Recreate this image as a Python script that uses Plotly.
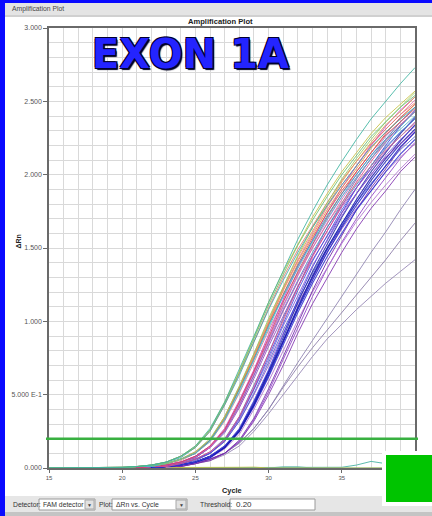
import plotly.graph_objects as go

# ---- data: delta Rn per cycle for each well (FAM detector) ----
cycles = list(range(15, 41))
threshold = 0.20
y_tickvals = [0.0, 0.5, 1.0, 1.5, 2.0, 2.5, 3.0]
y_ticktext = ["0.000", "5.000 E-1", "1.000", "1.500", "2.000", "2.500", "3.000"]
x_tickvals = [15, 20, 25, 30, 35, 40]

well_A1 = [0, 0, 0, 0, 0, 0.005, 0.01, 0.02, 0.04, 0.08, 0.15, 0.27, 0.45, 0.67, 0.90, 1.13, 1.35, 1.56, 1.75, 1.93, 2.09, 2.24, 2.38, 2.50, 2.62, 2.73]
well_A2 = [0, 0, 0, 0, 0, 0.005, 0.01, 0.02, 0.04, 0.08, 0.14, 0.26, 0.44, 0.65, 0.88, 1.11, 1.32, 1.52, 1.69, 1.85, 2.00, 2.13, 2.26, 2.36, 2.46, 2.54]
well_A3 = [0, 0, 0, 0, 0, 0.005, 0.01, 0.02, 0.04, 0.07, 0.14, 0.25, 0.43, 0.63, 0.86, 1.08, 1.28, 1.47, 1.64, 1.79, 1.93, 2.06, 2.19, 2.29, 2.38, 2.46]
well_A4 = [0, 0, 0, 0, 0, 0, 0.01, 0.02, 0.03, 0.06, 0.11, 0.20, 0.35, 0.56, 0.78, 1.02, 1.24, 1.45, 1.64, 1.81, 1.97, 2.11, 2.24, 2.36, 2.46, 2.56]
well_A5 = [0, 0, 0, 0, 0, 0, 0.01, 0.01, 0.03, 0.06, 0.10, 0.18, 0.33, 0.52, 0.74, 0.96, 1.17, 1.36, 1.54, 1.70, 1.85, 1.98, 2.11, 2.22, 2.31, 2.40]
well_A6 = [0, 0, 0, 0, 0, 0.005, 0.01, 0.02, 0.04, 0.08, 0.15, 0.26, 0.45, 0.66, 0.89, 1.13, 1.34, 1.53, 1.71, 1.87, 2.02, 2.15, 2.28, 2.39, 2.48, 2.57]
well_B1 = [0, 0, 0, 0, 0, 0, 0.01, 0.01, 0.03, 0.06, 0.10, 0.19, 0.34, 0.54, 0.76, 0.99, 1.21, 1.41, 1.59, 1.76, 1.91, 2.04, 2.18, 2.29, 2.38, 2.48]
well_B2 = [0, 0, 0, 0, 0, 0, 0.01, 0.01, 0.03, 0.06, 0.11, 0.19, 0.35, 0.55, 0.78, 1.01, 1.23, 1.44, 1.62, 1.79, 1.95, 2.09, 2.22, 2.34, 2.43, 2.53]
well_B3 = [0, 0, 0, 0, 0, 0, 0.01, 0.01, 0.03, 0.06, 0.10, 0.19, 0.34, 0.54, 0.75, 0.98, 1.19, 1.39, 1.57, 1.74, 1.89, 2.02, 2.15, 2.27, 2.36, 2.45]
well_B4 = [0, 0, 0, 0, 0, 0, 0, 0.01, 0.02, 0.04, 0.08, 0.15, 0.26, 0.45, 0.66, 0.89, 1.13, 1.34, 1.53, 1.71, 1.87, 2.02, 2.15, 2.28, 2.39, 2.48]
well_B5 = [0, 0, 0, 0, 0, 0.005, 0.01, 0.02, 0.04, 0.08, 0.14, 0.25, 0.43, 0.64, 0.86, 1.09, 1.30, 1.49, 1.65, 1.81, 1.96, 2.09, 2.21, 2.31, 2.41, 2.49]
well_B6 = [0, 0, 0, 0, 0, 0, 0.01, 0.01, 0.03, 0.06, 0.11, 0.19, 0.35, 0.55, 0.77, 1.00, 1.22, 1.42, 1.60, 1.78, 1.93, 2.06, 2.20, 2.31, 2.41, 2.51]
well_C1 = [0, 0, 0, 0, 0, 0, 0, 0.01, 0.02, 0.04, 0.08, 0.14, 0.26, 0.44, 0.65, 0.87, 1.10, 1.31, 1.50, 1.67, 1.83, 1.98, 2.11, 2.23, 2.34, 2.43]
well_C2 = [0, 0, 0, 0, 0, 0, 0, 0.01, 0.02, 0.04, 0.08, 0.15, 0.27, 0.46, 0.67, 0.91, 1.15, 1.37, 1.56, 1.74, 1.91, 2.06, 2.20, 2.33, 2.44, 2.53]
well_C3 = [0, 0, 0, 0, 0, 0, 0, 0.01, 0.02, 0.04, 0.07, 0.14, 0.25, 0.42, 0.63, 0.85, 1.07, 1.27, 1.45, 1.62, 1.78, 1.91, 2.04, 2.16, 2.26, 2.36]
well_C4 = [0, 0, 0, 0, 0, 0, 0.01, 0.01, 0.03, 0.05, 0.10, 0.18, 0.32, 0.51, 0.72, 0.94, 1.14, 1.33, 1.50, 1.67, 1.81, 1.94, 2.06, 2.17, 2.26, 2.35]
well_C5 = [0, 0, 0, 0, 0, 0, 0, 0.01, 0.01, 0.03, 0.06, 0.11, 0.19, 0.35, 0.55, 0.78, 1.01, 1.23, 1.44, 1.62, 1.79, 1.95, 2.09, 2.22, 2.34, 2.43]
well_C6 = [0, 0, 0, 0, 0, 0, 0, 0.01, 0.02, 0.04, 0.07, 0.14, 0.24, 0.41, 0.61, 0.83, 1.04, 1.24, 1.42, 1.58, 1.74, 1.87, 2.00, 2.12, 2.21, 2.30]
well_D1 = [0, 0, 0, 0, 0, 0, 0, 0.01, 0.01, 0.03, 0.06, 0.10, 0.19, 0.33, 0.53, 0.74, 0.97, 1.18, 1.38, 1.55, 1.72, 1.87, 2.00, 2.13, 2.24, 2.33]
well_D2 = [0, 0, 0, 0, 0, 0, 0, 0.01, 0.01, 0.03, 0.05, 0.10, 0.18, 0.32, 0.50, 0.70, 0.92, 1.12, 1.30, 1.47, 1.63, 1.77, 1.89, 2.02, 2.12, 2.21]
well_D3 = [0, 0, 0, 0, 0, 0, 0, 0.01, 0.02, 0.04, 0.08, 0.14, 0.26, 0.44, 0.65, 0.88, 1.11, 1.32, 1.52, 1.69, 1.85, 2.00, 2.13, 2.26, 2.36, 2.46]
well_D4 = [0, 0, 0, 0, 0, 0, 0, 0.01, 0.02, 0.04, 0.07, 0.14, 0.25, 0.43, 0.63, 0.86, 1.08, 1.28, 1.47, 1.64, 1.79, 1.93, 2.06, 2.19, 2.29, 2.38]
well_D5 = [0, 0, 0, 0, 0, 0, 0, 0.01, 0.01, 0.03, 0.06, 0.10, 0.19, 0.34, 0.54, 0.76, 0.99, 1.21, 1.41, 1.59, 1.76, 1.91, 2.04, 2.18, 2.29, 2.38]
well_D6 = [0, 0, 0, 0, 0, 0, 0, 0.01, 0.01, 0.03, 0.05, 0.10, 0.18, 0.32, 0.51, 0.72, 0.94, 1.14, 1.33, 1.50, 1.67, 1.81, 1.94, 2.06, 2.17, 2.26]
well_E1 = [0, 0, 0, 0, 0, 0, 0, 0, 0.01, 0.02, 0.04, 0.07, 0.14, 0.25, 0.43, 0.63, 0.86, 1.08, 1.28, 1.47, 1.64, 1.79, 1.93, 2.06, 2.19, 2.29]
well_E2 = [0, 0, 0, 0, 0, 0, 0, 0, 0.01, 0.02, 0.04, 0.08, 0.14, 0.26, 0.44, 0.65, 0.87, 1.10, 1.31, 1.50, 1.67, 1.83, 1.98, 2.11, 2.23, 2.34]
well_E3 = [0, 0, 0, 0, 0, 0, 0, 0, 0.01, 0.02, 0.04, 0.07, 0.14, 0.25, 0.42, 0.62, 0.84, 1.06, 1.26, 1.44, 1.60, 1.76, 1.89, 2.02, 2.14, 2.24]
well_E4 = [0, 0, 0, 0, 0, 0, 0, 0, 0.01, 0.02, 0.04, 0.08, 0.15, 0.26, 0.45, 0.66, 0.89, 1.13, 1.34, 1.53, 1.71, 1.87, 2.02, 2.15, 2.28, 2.39]
well_E5 = [0, 0, 0, 0, 0, 0, 0, 0.01, 0.01, 0.03, 0.06, 0.11, 0.20, 0.35, 0.56, 0.78, 1.02, 1.24, 1.45, 1.64, 1.81, 1.97, 2.11, 2.24, 2.36, 2.46]
well_E6 = [0, 0, 0, 0, 0, 0, 0, 0, 0.01, 0.01, 0.03, 0.05, 0.10, 0.18, 0.32, 0.50, 0.70, 0.92, 1.12, 1.30, 1.47, 1.63, 1.77, 1.89, 2.02, 2.12]
well_F1 = [0, 0, 0, 0, 0, 0, 0, 0, 0.01, 0.01, 0.03, 0.06, 0.10, 0.18, 0.33, 0.52, 0.74, 0.96, 1.17, 1.36, 1.54, 1.70, 1.85, 1.98, 2.11, 2.22]
well_F2 = [0, 0, 0, 0, 0, 0, 0, 0, 0.00, 0.02, 0.03, 0.07, 0.13, 0.23, 0.40, 0.59, 0.80, 1.01, 1.20, 1.37, 1.53, 1.68, 1.81, 1.93, 2.04, 2.14]
well_F3 = [0, 0, 0, 0, 0, 0, 0, 0, 0.01, 0.01, 0.03, 0.06, 0.10, 0.19, 0.34, 0.54, 0.76, 0.99, 1.21, 1.41, 1.59, 1.76, 1.91, 2.04, 2.18, 2.29]
well_F4 = [0, 0, 0, 0, 0, 0, 0.01, 0.01, 0.03, 0.06, 0.10, 0.19, 0.33, 0.53, 0.74, 0.97, 1.18, 1.38, 1.55, 1.72, 1.87, 2.00, 2.13, 2.24, 2.33, 2.43]
well_F5 = [0, 0, 0, 0, 0, 0, 0, 0, 0.01, 0.02, 0.04, 0.08, 0.14, 0.25, 0.43, 0.64, 0.86, 1.09, 1.30, 1.49, 1.65, 1.81, 1.96, 2.09, 2.21, 2.31]
well_F6 = [0, 0, 0, 0, 0, 0, 0, 0, 0.01, 0.02, 0.04, 0.08, 0.15, 0.27, 0.46, 0.67, 0.91, 1.15, 1.37, 1.56, 1.74, 1.91, 2.06, 2.20, 2.33, 2.44]
# slower wells
well_G1 = [0, 0, 0, 0, 0, 0, 0, 0.01, 0.01, 0.02, 0.03, 0.06, 0.10, 0.17, 0.27, 0.40, 0.56, 0.72, 0.87, 1.02, 1.17, 1.32, 1.47, 1.61, 1.76, 1.90]
well_G2 = [0, 0, 0, 0, 0, 0, 0, 0.01, 0.01, 0.02, 0.03, 0.06, 0.10, 0.17, 0.27, 0.40, 0.55, 0.69, 0.82, 0.94, 1.06, 1.18, 1.30, 1.42, 1.55, 1.67]
well_G3 = [0, 0, 0, 0, 0, 0, 0, 0, 0.01, 0.02, 0.03, 0.05, 0.09, 0.15, 0.25, 0.37, 0.50, 0.63, 0.76, 0.88, 0.98, 1.08, 1.17, 1.26, 1.34, 1.42]
# no-amplification wells
well_H1 = [0, 0, 0, 0, 0, 0, 0, 0, 0, 0, 0, 0, 0, 0, 0, 0, 0, 0, 0, 0, 0.005, 0.02, 0.045, 0.03, 0.02, 0.01]
well_H2 = [0, 0, 0, 0, 0, 0, 0, 0, 0, 0, 0, 0, 0, 0, 0, 0, 0.008, 0.008, 0.0, 0, 0, 0, 0, 0, 0, 0]
well_H3 = [0, 0, 0, 0, 0, 0, 0, 0, 0, 0, 0, 0, 0, 0.005, 0.006, 0, 0, 0, 0, 0, 0, 0, 0, 0, 0, 0]

wells = [
    (well_G3, "#9484b4", 1.0), (well_G2, "#8a7aa8", 1.0), (well_G1, "#8c80b0", 1.0),
    (well_H1, "#40b0a0", 1.0), (well_H2, "#50b0a0", 1.0), (well_H3, "#c8c040", 1.0),
    (well_E6, "#8030b0", 1.0), (well_F1, "#9040c8", 1.0), (well_F2, "#b070d0", 1.0),
    (well_F3, "#7028a8", 1.0), (well_D2, "#a060c8", 1.0), (well_D6, "#5060d0", 1.0),
    (well_E3, "#3030d0", 1.1), (well_E1, "#2020c8", 1.1), (well_F5, "#1c1cb8", 1.1),
    (well_E2, "#1818b0", 1.1), (well_E4, "#2828a8", 1.1), (well_F6, "#3a3ae0", 1.0),
    (well_C6, "#9048c0", 1.0), (well_D1, "#8058d8", 1.0), (well_D5, "#4050e0", 1.0),
    (well_D4, "#4888c8", 1.0), (well_E5, "#6070b0", 1.0), (well_D3, "#a080d8", 1.0),
    (well_C3, "#b050b8", 1.0), (well_C5, "#e04890", 1.0), (well_C4, "#d08090", 1.0),
    (well_C1, "#d860b0", 1.0), (well_C2, "#c840c0", 1.0), (well_B6, "#e870a8", 1.0),
    (well_B4, "#d84060", 1.0), (well_B3, "#e05048", 1.0), (well_B5, "#e87868", 1.0),
    (well_B1, "#e89040", 1.0), (well_B2, "#e0a050", 1.0), (well_F4, "#30a0b8", 1.0),
    (well_A6, "#c8c040", 1.0), (well_A5, "#50b8d0", 1.0), (well_A4, "#98cc60", 1.0),
    (well_A3, "#40a8b0", 1.0), (well_A2, "#6cc070", 1.0), (well_A1, "#3cb4a0", 1.0),
]

# ---- page geometry (pixels) ----
W, H = 432, 516
PL, PR, PT, PB = 49, 415, 28, 468


def fx(px):
    return (px - PL) / (PR - PL)


def fy(py):
    return (PB - py) / (PB - PT)


UI = "Liberation Sans, Arial, sans-serif"

fig = go.Figure()
for vals, color, width in wells:
    fig.add_trace(go.Scatter(
        x=cycles, y=vals, mode="lines",
        line=dict(color=color, width=width),
        opacity=0.85, hoverinfo="skip", showlegend=False,
    ))

shapes = []


def rect(x0, y0, x1, y1, fill, line=None, layer="below", lw=1):
    shapes.append(dict(
        type="rect", xref="paper", yref="paper",
        x0=fx(x0), x1=fx(x1), y0=fy(y1), y1=fy(y0),
        fillcolor=fill, layer=layer,
        line=dict(color=line or fill, width=lw if line else 0),
    ))


# window chrome
rect(0, 0, W, 3, "#0a0aff")
rect(0, 0, 5, H, "#0a0aff")
rect(5, 3, W, 15, "#e4e4e4")
rect(5, 15, W, 17, "#d0d0d0")
rect(5, 496, W, 512, "#e6e6e6")
rect(5, 512, W, H, "#c4c4c4")
# control boxes
rect(39, 499, 95, 510, "#ffffff", "#9a9a9a", "above")
rect(85, 500, 94, 509, "#e2e2e2", "#a8a8a8", "above")
rect(112, 499, 187, 510, "#ffffff", "#9a9a9a", "above")
rect(176, 500, 186, 509, "#e2e2e2", "#a8a8a8", "above")
rect(230, 499, 315, 510, "#ffffff", "#9a9a9a", "above")
# status square
rect(382, 451, W, 506, "#ffffff", None, "above")
rect(386, 455, W, 502, "#00c400", None, "above")

# threshold line
shapes.append(dict(
    type="line", xref="paper", yref="y",
    x0=fx(PL - 3), x1=fx(PR + 3), y0=threshold, y1=threshold,
    line=dict(color="#38b040", width=2.5), layer="above",
))

annotations = []


def label(text, px, py, size, color="#333333", xanchor="center", bold=False,
          family=UI, angle=0, **kw):
    annotations.append(dict(
        text=f"<b>{text}</b>" if bold else text,
        xref="paper", yref="paper", x=fx(px), y=fy(py),
        xanchor=xanchor, yanchor="middle", showarrow=False, textangle=angle,
        font=dict(family=family, size=size, color=color, **kw),
    ))


label("Amplification Plot", 10, 9, 6.8, "#444444", xanchor="left")
label("Amplification Plot", 220, 21.5, 7.6, "#222222", bold=True)
label("ΔRn", 17.5, 242, 7, "#222222", bold=True, angle=-90)
label("Cycle", 232, 490, 7.4, "#222222", bold=True)
label("Detector:", 11, 504.5, 6.8, "#333333", xanchor="left")
label("FAM detector", 41, 504.5, 6.8, "#333333", xanchor="left")
label("▼", 89.5, 504.5, 5, "#444444")
label("Plot:", 97, 504.5, 6.8, "#333333", xanchor="left")
label("ΔRn vs. Cycle", 114, 504.5, 6.8, "#333333", xanchor="left")
label("▼", 181, 504.5, 5, "#444444")
label("Threshold:", 198, 504.5, 6.8, "#333333", xanchor="left")
label(f"{threshold:.2f}", 234, 504.5, 8, "#333333", xanchor="left")
label("EXON 1A", 190, 54, 40, "#2424ff", bold=True, family="DejaVu Sans, Noto Sans, sans-serif",
      shadow="1px 1px 0 #000030, -1px -1px 0 #000030, 1px -1px 0 #000030, -1px 1px 0 #000030, 1.5px 1.5px 1px #000020")

grid = "#d9d9d9"
fig.update_layout(
    width=W, height=H,
    margin=dict(l=PL, r=W - PR, t=PT, b=H - PB, pad=0),
    paper_bgcolor="#ffffff", plot_bgcolor="#ffffff",
    shapes=shapes, annotations=annotations,
    xaxis=dict(
        range=[15, 40], tickvals=x_tickvals, ticktext=[str(v) for v in x_tickvals],
        showgrid=True, gridcolor=grid, gridwidth=1,
        minor=dict(dtick=1, showgrid=True, gridcolor=grid, gridwidth=1),
        showline=True, linecolor="#6a6a6a", linewidth=1.5, mirror=True,
        ticks="outside", ticklen=3, tickcolor="#6a6a6a",
        tickfont=dict(family=UI, size=6, color="#555555"), zeroline=False,
    ),
    yaxis=dict(
        range=[0, 3], tickvals=y_tickvals, ticktext=y_ticktext,
        showgrid=True, gridcolor=grid, gridwidth=1,
        minor=dict(dtick=0.1, showgrid=True, gridcolor=grid, gridwidth=1),
        showline=True, linecolor="#6a6a6a", linewidth=1.5, mirror=True,
        ticks="outside", ticklen=4, tickcolor="#6a6a6a",
        tickfont=dict(family=UI, size=7, color="#555555"), zeroline=False,
    ),
)

fig.write_html("out.html")
